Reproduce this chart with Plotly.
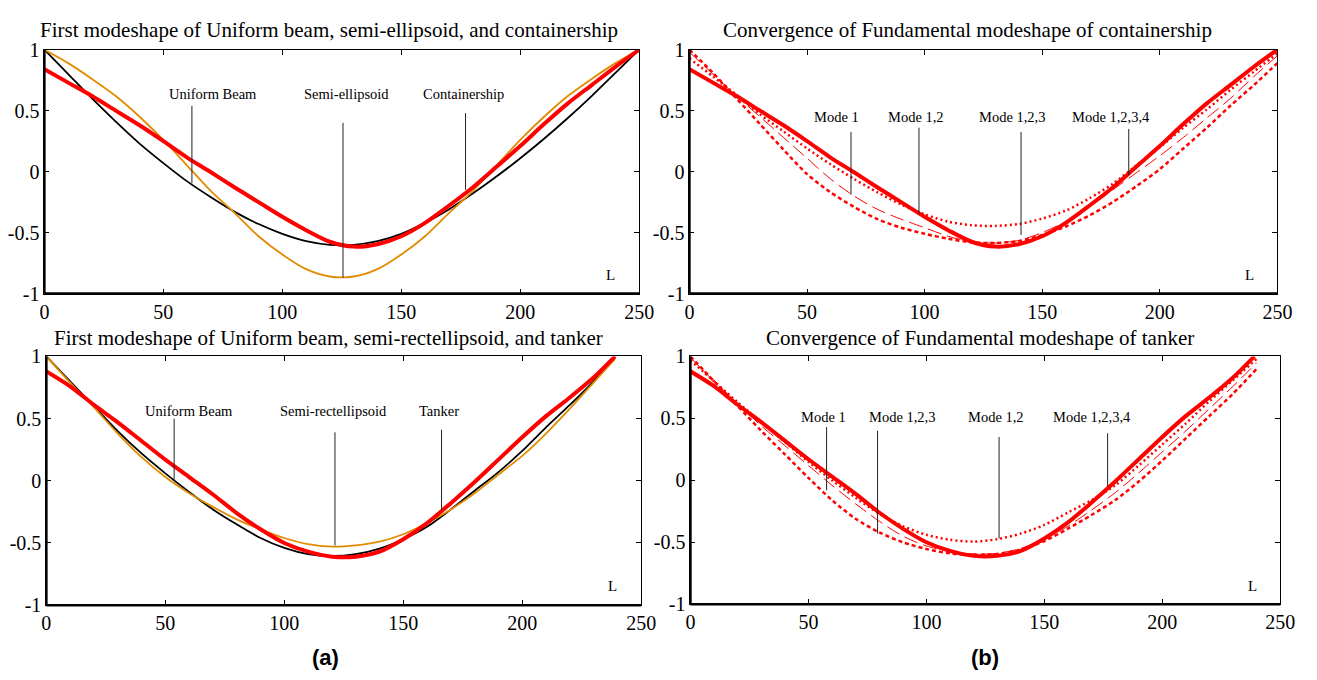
import plotly.graph_objects as go

# ---------------- data ----------------
# Containership panels: stations along the hull, 0..250
x_cs = [0, 10, 20, 30, 40, 50, 60, 70, 80, 90, 100, 110, 120,
        130, 140, 150, 160, 170, 180, 190, 200, 210, 220, 230, 240, 250]

uniform_beam_cs = [1.00, 0.80, 0.60, 0.41, 0.23, 0.07, -0.08, -0.21, -0.33, -0.43, -0.51, -0.57, -0.60,
                   -0.60, -0.57, -0.51, -0.42, -0.31, -0.18, -0.04, 0.11, 0.27, 0.44, 0.62, 0.81, 1.00]
semi_ellipsoid = [1.00, 0.89, 0.76, 0.62, 0.45, 0.26, 0.05, -0.16, -0.34, -0.53, -0.68, -0.80, -0.86,
                  -0.86, -0.80, -0.68, -0.53, -0.34, -0.16, 0.05, 0.26, 0.45, 0.62, 0.76, 0.89, 1.00]
containership = [0.84, 0.73, 0.62, 0.50, 0.38, 0.25, 0.115, -0.005, -0.13, -0.25, -0.37, -0.48, -0.575,
                 -0.615, -0.595, -0.53, -0.42, -0.28, -0.13, 0.04, 0.21, 0.39, 0.56, 0.71, 0.86, 1.00]

# convergence series for the containership
cs_dotted = [0.93, 0.78, 0.63, 0.47, 0.33, 0.19, 0.06, -0.06, -0.17, -0.27, -0.35, -0.41, -0.44,
             -0.445, -0.43, -0.385, -0.32, -0.22, -0.10, 0.05, 0.20, 0.36, 0.51, 0.67, 0.82, 0.97]
cs_longdash = [0.98, 0.80, 0.62, 0.45, 0.28, 0.11, -0.06, -0.20, -0.31, -0.39, -0.46, -0.53, -0.575,
               -0.585, -0.565, -0.50, -0.41, -0.29, -0.15, -0.01, 0.13, 0.28, 0.44, 0.60, 0.78, 0.95]
cs_dashed = [1.00, 0.81, 0.60, 0.39, 0.18, -0.02, -0.17, -0.29, -0.39, -0.46, -0.51, -0.55, -0.58,
             -0.585, -0.57, -0.52, -0.45, -0.36, -0.25, -0.12, 0.02, 0.19, 0.36, 0.54, 0.71, 0.89]

# Tanker panels: stations along the hull, 0..239
x_tk = [0, 10, 20, 30, 40, 50, 60, 70, 80, 90, 100, 110, 120,
        130, 140, 150, 160, 170, 180, 190, 200, 210, 220, 230, 239]

uniform_beam_tk = [1.00, 0.80, 0.60, 0.40, 0.22, 0.06, -0.09, -0.23, -0.35, -0.46, -0.54, -0.59, -0.605,
                   -0.59, -0.545, -0.47, -0.37, -0.23, -0.08, 0.07, 0.24, 0.43, 0.61, 0.80, 1.00]
semi_rectellipsoid = [1.00, 0.79, 0.59, 0.38, 0.19, 0.03, -0.10, -0.21, -0.31, -0.39, -0.46, -0.51, -0.53,
                      -0.52, -0.49, -0.43, -0.34, -0.23, -0.10, 0.05, 0.20, 0.38, 0.58, 0.79, 0.98]
tanker = [0.88, 0.76, 0.61, 0.47, 0.32, 0.17, 0.03, -0.11, -0.26, -0.39, -0.50, -0.57, -0.61,
          -0.61, -0.57, -0.47, -0.34, -0.18, -0.01, 0.17, 0.35, 0.52, 0.67, 0.83, 1.00]

# convergence series for the tanker
x_tk_conv = [0, 10, 20, 30, 40, 50, 60, 70, 80, 90, 100, 110, 120,
             130, 140, 150, 160, 170, 180, 190, 200, 210, 220, 230, 240]
tk_dotted = [0.97, 0.80, 0.63, 0.47, 0.31, 0.15, 0.00, -0.14, -0.27, -0.37, -0.44, -0.48, -0.495,
             -0.475, -0.43, -0.36, -0.26, -0.16, -0.04, 0.12, 0.29, 0.46, 0.64, 0.81, 0.98]
tk_longdash = [0.99, 0.80, 0.62, 0.44, 0.28, 0.12, -0.04, -0.19, -0.33, -0.45, -0.53, -0.575, -0.595,
               -0.59, -0.55, -0.47, -0.37, -0.24, -0.10, 0.06, 0.23, 0.40, 0.58, 0.76, 0.95]
tk_dashed = [1.00, 0.80, 0.60, 0.40, 0.21, 0.02, -0.16, -0.31, -0.42, -0.50, -0.555, -0.59, -0.60,
             -0.595, -0.56, -0.49, -0.39, -0.28, -0.16, -0.01, 0.16, 0.34, 0.52, 0.70, 0.90]

x_tick_vals = [0, 50, 100, 150, 200, 250]
x_tick_text = ["0", "50", "100", "150", "200", "250"]
y_tick_vals = [-1, -0.5, 0, 0.5, 1]
y_tick_text = ["-1", "-0.5", "0", "0.5", "1"]

panel_titles = [
    "First modeshape of Uniform beam, semi-ellipsoid, and containership",
    "Convergence of Fundamental modeshape of containership",
    "First modeshape of Uniform beam, semi-rectellipsoid, and tanker",
    "Convergence of Fundamental modeshape of tanker",
]

# labels: (text, text_x, text_y, line_x, line_top, line_bottom)
labels_tl = [("Uniform Beam", 71, 0.64, 62, 0.54, -0.095),
             ("Semi-ellipsoid", 127, 0.64, 125.5, 0.40, -0.87),
             ("Containership", 176, 0.64, 177, 0.48, -0.15)]
labels_tr = [("Mode 1", 62.5, 0.445, 68.7, 0.325, -0.19),
             ("Mode 1,2", 96.3, 0.445, 97.6, 0.36, -0.35),
             ("Mode 1,2,3", 137, 0.445, 141, 0.325, -0.52),
             ("Mode 1,2,3,4", 179.2, 0.445, 186.8, 0.35, -0.03)]
labels_bl = [("Uniform Beam", 60, 0.56, 53.7, 0.50, 0.0),
             ("Semi-rectellipsoid", 120.6, 0.56, 121.3, 0.39, -0.52),
             ("Tanker", 165, 0.56, 166.1, 0.41, -0.24)]
labels_br = [("Mode 1", 56.6, 0.51, 57.7, 0.43, -0.08),
             ("Mode 1,2,3", 89.5, 0.51, 79.3, 0.40, -0.43),
             ("Mode 1,2", 129.4, 0.51, 130.8, 0.35, -0.47),
             ("Mode 1,2,3,4", 170, 0.51, 176.8, 0.38, -0.05)]

# ---------------- styling ----------------
SERIF = "Liberation Serif"
RED = "#FF0000"
ORANGE = "#E38B00"
BLACK = "#000000"

W, H = 1317, 680
panels = {
    1: dict(x=(40, 644), y=(40, 292)),
    2: dict(x=(695, 1292), y=(40, 292)),
    3: dict(x=(42, 646), y=(357, 614)),
    4: dict(x=(696, 1295), y=(357, 613)),
}

fig = go.Figure()


def add_line(panel, xs, ys, color, width, dash="solid"):
    sx = "" if panel == 1 else str(panel)
    fig.add_trace(go.Scatter(
        x=xs, y=ys, mode="lines", xaxis="x" + sx, yaxis="y" + sx,
        line=dict(color=color, width=width, dash=dash, shape="spline", smoothing=0.8),
        showlegend=False, hoverinfo="skip"))


DOT = "2px,3px"
SQDASH = "4px,3px"
LONGDASH = "14px,6px"

# panel 1: containership comparison
add_line(1, x_cs, uniform_beam_cs, BLACK, 1.8)
add_line(1, x_cs, semi_ellipsoid, ORANGE, 1.8)
add_line(1, x_cs, containership, RED, 4)

# panel 2: containership convergence
add_line(2, x_cs, cs_dashed, RED, 2.5, SQDASH)
add_line(2, x_cs, cs_longdash, RED, 1, LONGDASH)
add_line(2, x_cs, cs_dotted, RED, 2.5, DOT)
add_line(2, x_cs, containership, RED, 4)

# panel 3: tanker comparison
add_line(3, x_tk, uniform_beam_tk, BLACK, 1.8)
add_line(3, x_tk, semi_rectellipsoid, ORANGE, 1.8)
add_line(3, x_tk, tanker, RED, 4)

# panel 4: tanker convergence
add_line(4, x_tk_conv, tk_dashed, RED, 2.5, SQDASH)
add_line(4, x_tk_conv, tk_longdash, RED, 1, LONGDASH)
add_line(4, x_tk_conv, tk_dotted, RED, 2.5, DOT)
add_line(4, x_tk, tanker, RED, 4)

layout = dict(
    width=W, height=H, autosize=False,
    margin=dict(l=0, r=0, t=0, b=0),
    paper_bgcolor="white", plot_bgcolor="white",
    showlegend=False,
)

axis_common = dict(showgrid=False, zeroline=False, showline=True, linecolor=BLACK,
                   linewidth=1, mirror="ticks", ticks="inside", ticklen=5, tickwidth=1,
                   tickcolor=BLACK, tickfont=dict(family=SERIF, size=20, color=BLACK),
                   fixedrange=True)

shapes = []
annotations = []

for p, geo in panels.items():
    sx = "" if p == 1 else str(p)
    x0, x1 = geo["x"]
    y0, y1 = geo["y"]
    layout["xaxis" + sx] = dict(axis_common, domain=[x0 / W, x1 / W], range=[0, 250],
                                anchor="y" + sx, tickmode="array",
                                tickvals=x_tick_vals, ticktext=x_tick_text)
    layout["yaxis" + sx] = dict(axis_common, domain=[1 - y1 / H, 1 - y0 / H], range=[-1, 1],
                                anchor="x" + sx, tickmode="array",
                                tickvals=y_tick_vals, ticktext=y_tick_text)
    # heavier left and bottom frame lines
    shapes.append(dict(type="line", xref="x" + sx + " domain", yref="y" + sx + " domain",
                       x0=0, x1=0, y0=0, y1=1, line=dict(color=BLACK, width=2.5)))
    shapes.append(dict(type="line", xref="x" + sx + " domain", yref="y" + sx + " domain",
                       x0=0, x1=1, y0=0, y1=0, line=dict(color=BLACK, width=2.5)))
    # "L" marker near the lower right
    annotations.append(dict(text="L", x=238, y=-0.85, xref="x" + sx, yref="y" + sx,
                            showarrow=False, font=dict(family=SERIF, size=15, color=BLACK)))

for p, labels in zip([1, 2, 3, 4], [labels_tl, labels_tr, labels_bl, labels_br]):
    sx = "" if p == 1 else str(p)
    for text, tx, ty, lx, ltop, lbot in labels:
        annotations.append(dict(text=text, x=tx, y=ty, xref="x" + sx, yref="y" + sx,
                                showarrow=False,
                                font=dict(family=SERIF, size=14.5, color=BLACK)))
        shapes.append(dict(type="line", xref="x" + sx, yref="y" + sx,
                           x0=lx, x1=lx, y0=ltop, y1=lbot,
                           line=dict(color="#222222", width=1)))

# panel titles
title_pos = [(329, 20), (977, 20), (328, 338), (990, 338)]
for text, (cx, cy) in zip(panel_titles, title_pos):
    annotations.append(dict(text=text, x=cx / W, y=1 - cy / H, xref="paper", yref="paper",
                            xanchor="center", yanchor="middle", showarrow=False,
                            font=dict(family=SERIF, size=21, color=BLACK)))

# sub-figure letters
for text, cx in [("(a)", 325), ("(b)", 995)]:
    annotations.append(dict(text="<b>" + text + "</b>", x=cx / W, y=1 - 668 / H,
                            xref="paper", yref="paper", xanchor="center", yanchor="middle",
                            showarrow=False,
                            font=dict(family="Liberation Sans", size=22, color=BLACK)))

layout["shapes"] = shapes
layout["annotations"] = annotations
fig.update_layout(**layout)

fig.write_html("out.html")
